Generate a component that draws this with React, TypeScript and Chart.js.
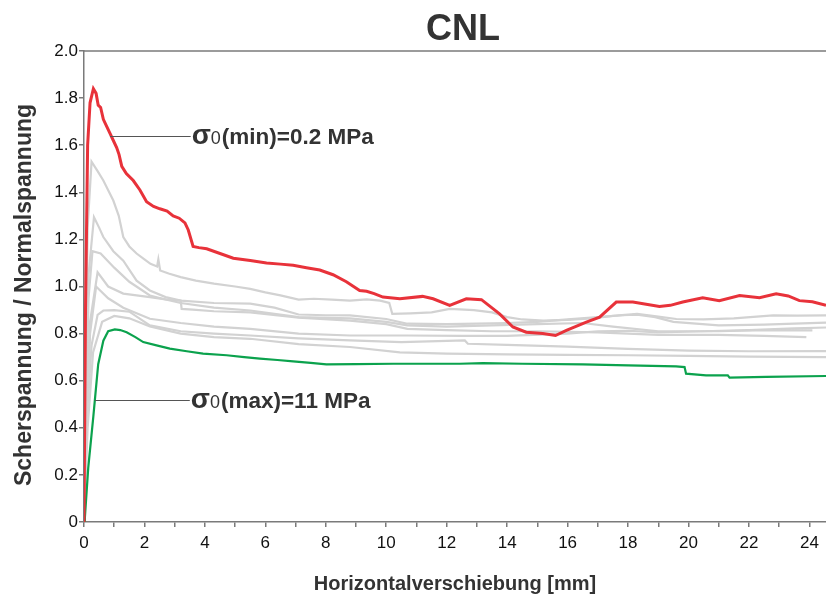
import React, { useEffect, useRef } from 'react';
import { Chart, registerables } from 'chart.js';

Chart.register(...registerables);

const TITLE = 'CNL';
const X_TITLE = 'Horizontalverschiebung [mm]';
const Y_TITLE = 'Scherspannung / Normalspannung';

const X_MIN = 0;
const X_MAX = 24.55;
const X_STEP = 1;
const X_LABEL_EVERY = 2;
const Y_MIN = 0;
const Y_MAX = 2.0;
const Y_STEP = 0.2;

// red: sigma0(min) = 0.2 MPa
const redX = [0, 0.05, 0.12, 0.2, 0.31, 0.4, 0.47, 0.55, 0.64, 0.75, 0.86, 0.97, 1.08, 1.16, 1.25, 1.4, 1.63, 1.85, 2.07, 2.3, 2.51, 2.75, 2.95, 3.15, 3.34, 3.45, 3.61, 3.8, 4.06, 4.5, 4.94, 5.5, 6.04, 6.5, 6.92, 7.36, 7.8, 8.24, 8.68, 9.12, 9.35, 9.6, 9.89, 10.45, 11.2, 11.55, 12.1, 12.65, 13.15, 13.75, 14.19, 14.63, 15.18, 15.6, 15.96, 16.62, 17.06, 17.61, 18.16, 18.6, 19.04, 19.4, 19.81, 20.47, 21.02, 21.69, 22.35, 22.9, 23.3, 23.67, 24.1, 24.55];
const redY = [0, 0.9, 1.6, 1.78, 1.84, 1.82, 1.77, 1.76, 1.71, 1.68, 1.65, 1.62, 1.59, 1.56, 1.51, 1.48, 1.45, 1.41, 1.36, 1.34, 1.33, 1.32, 1.3, 1.29, 1.27, 1.24, 1.17, 1.165, 1.16, 1.14, 1.12, 1.11, 1.1, 1.095, 1.09, 1.08, 1.07, 1.05, 1.02, 0.983, 0.98, 0.97, 0.955, 0.948, 0.958, 0.948, 0.92, 0.948, 0.944, 0.884, 0.828, 0.806, 0.8, 0.792, 0.814, 0.849, 0.87, 0.934, 0.934, 0.925, 0.915, 0.92, 0.934, 0.952, 0.94, 0.962, 0.952, 0.969, 0.96, 0.94, 0.935, 0.92];

// green: sigma0(max) = 11 MPa
const greenX = [0, 0.03, 0.14, 0.31, 0.47, 0.64, 0.8, 1.02, 1.2, 1.41, 1.7, 1.96, 2.4, 2.84, 3.4, 3.94, 4.72, 5.3, 5.82, 6.4, 6.92, 7.5, 8.02, 9, 10.23, 11.5, 12.43, 13.2, 14.5, 16.5, 18, 19.59, 19.87, 19.92, 20.58, 21.3, 21.36, 22.57, 24.55];
const greenY = [0, 0.02, 0.23, 0.45, 0.67, 0.77, 0.81, 0.818, 0.815, 0.806, 0.785, 0.764, 0.75, 0.736, 0.725, 0.715, 0.708, 0.7, 0.694, 0.688, 0.682, 0.676, 0.669, 0.67, 0.672, 0.672, 0.672, 0.675, 0.672, 0.669, 0.665, 0.661, 0.658, 0.63, 0.623, 0.623, 0.613, 0.616, 0.62];

// grey: intermediate normal stresses
const gray1X = [0, 0.05, 0.12, 0.25, 0.45, 0.64, 0.97, 1.15, 1.3, 1.5, 1.74, 2.0, 2.2, 2.42, 2.46, 2.52, 2.8, 3.2, 3.7, 4.3, 5.0, 5.5, 6.0, 6.5, 7.1, 7.6, 8.2, 8.8, 9.35, 9.8, 10.1, 10.2, 10.8, 11.5, 12.1, 12.9, 13.5, 14.0, 14.5, 15.2, 16.0, 16.8, 17.5, 18.3, 19.0, 19.6, 20.5, 21.5, 22.8, 23.6, 24.55];
const gray1Y = [0, 0.6, 1.25, 1.53, 1.49, 1.45, 1.365, 1.3, 1.21, 1.17, 1.14, 1.115, 1.096, 1.085, 1.115, 1.068, 1.055, 1.04, 1.025, 1.012, 1.0, 0.99, 0.975, 0.962, 0.944, 0.948, 0.944, 0.94, 0.945, 0.94, 0.93, 0.884, 0.886, 0.89, 0.905, 0.9, 0.89, 0.87, 0.86, 0.855, 0.858, 0.865, 0.875, 0.884, 0.872, 0.862, 0.86, 0.865, 0.877, 0.876, 0.877];
const gray2X = [0, 0.06, 0.15, 0.33, 0.5, 0.64, 0.97, 1.3, 1.74, 2.18, 2.7, 3.2, 4.3, 5.5, 6.3, 7.1, 8.0, 8.8, 10.0, 10.7, 12.0, 13.0, 14.0, 15.0, 16.0, 17.0, 17.8, 18.3, 18.9, 19.5, 21.0, 22.5, 23.5, 24.55];
const gray2Y = [0, 0.5, 1.05, 1.294, 1.25, 1.21, 1.15, 1.11, 1.025, 0.983, 0.955, 0.94, 0.93, 0.927, 0.91, 0.881, 0.878, 0.877, 0.862, 0.842, 0.84, 0.842, 0.845, 0.85, 0.86, 0.87, 0.878, 0.88, 0.87, 0.85, 0.835, 0.838, 0.842, 0.847];
const gray3X = [0, 0.06, 0.15, 0.28, 0.55, 1.0, 1.5, 2.18, 2.7, 3.2, 4.3, 5.5, 7.1, 8.8, 10.0, 10.7, 12.0, 13.5, 15.0, 16.5, 17.5, 19.0, 21.0, 22.5, 24.1];
const gray3Y = [0, 0.45, 0.95, 1.15, 1.14, 1.08, 1.02, 0.962, 0.945, 0.93, 0.91, 0.898, 0.87, 0.865, 0.85, 0.835, 0.83, 0.835, 0.84, 0.845, 0.83, 0.81, 0.81, 0.815, 0.814];
const gray4X = [0, 0.07, 0.2, 0.45, 0.8, 1.3, 2.18, 2.7, 3.2, 3.23, 3.6, 4.3, 5.5, 7.1, 8.8, 10.0, 10.7, 12.0, 13.5, 15.0, 17.0, 19.0, 21.0, 22.5, 23.9];
const gray4Y = [0, 0.4, 0.85, 1.06, 1.0, 0.97, 0.955, 0.945, 0.94, 0.905, 0.902, 0.895, 0.89, 0.868, 0.855, 0.84, 0.82, 0.815, 0.81, 0.81, 0.805, 0.795, 0.795, 0.79, 0.785];
const gray5X = [0, 0.07, 0.2, 0.4, 0.8, 1.3, 2.18, 3.2, 4.3, 5.5, 7.1, 8.8, 10.7, 12.5, 14.0, 16.0, 17.0, 18.0, 19.0, 20.5, 22.0, 23.5, 24.55];
const gray5Y = [0, 0.4, 0.8, 1.0, 0.95, 0.91, 0.863, 0.845, 0.83, 0.82, 0.8, 0.792, 0.792, 0.79, 0.79, 0.8, 0.81, 0.812, 0.805, 0.81, 0.815, 0.822, 0.826];
const gray6X = [0, 0.1, 0.25, 0.45, 0.64, 1.0, 1.5, 2.18, 3.2, 4.3, 5.5, 7.1, 8.8, 10.5, 12.6, 12.7, 14.0, 16.0, 18.0, 20.0, 22.0, 24.55];
const gray6Y = [0, 0.45, 0.75, 0.88, 0.898, 0.9, 0.893, 0.835, 0.81, 0.8, 0.792, 0.78, 0.771, 0.764, 0.771, 0.757, 0.752, 0.745, 0.735, 0.728, 0.725, 0.726];
const gray7X = [0, 0.12, 0.3, 0.6, 1.0, 1.5, 2.18, 3.2, 4.3, 5.5, 7.1, 8.8, 10.45, 12.0, 14.0, 16.0, 18.0, 20.0, 22.0, 24.55];
const gray7Y = [0, 0.4, 0.72, 0.85, 0.875, 0.865, 0.83, 0.8, 0.785, 0.778, 0.755, 0.743, 0.72, 0.715, 0.712, 0.71, 0.708, 0.705, 0.702, 0.7];

const grayX = [gray1X, gray2X, gray3X, gray4X, gray5X, gray6X, gray7X];
const grayY = [gray1Y, gray2Y, gray3Y, gray4Y, gray5Y, gray6Y, gray7Y];

// annotation labels: anchor x, y, line end x
const annoMin = { sub: '0', rest: '(min)=0.2 MPa', x0: 0.86, y: 1.64, x1: 3.53 };
const annoMax = { sub: '0', rest: '(max)=11 MPa', x0: 0.36, y: 0.52, x1: 3.5 };

const FONT = '"Liberation Sans", Arial, Helvetica, sans-serif';
const TEXT = '#333333';
const AXIS = '#7a7a7a';

const toPts = (xs: number[], ys: number[]) => xs.map((x, i) => ({ x, y: ys[i] }));

const overlay = {
  id: 'overlay',
  afterDraw(chart: any) {
    const { ctx, chartArea, scales } = chart;
    const xs = scales.x;
    const ys = scales.y;
    ctx.save();
    ctx.strokeStyle = AXIS;
    ctx.lineWidth = 1.5;
    ctx.beginPath();
    ctx.moveTo(chartArea.left, chartArea.top);
    ctx.lineTo(chartArea.right, chartArea.top);
    ctx.stroke();

    ctx.fillStyle = TEXT;
    ctx.textAlign = 'center';
    ctx.textBaseline = 'alphabetic';
    ctx.font = `bold 36px ${FONT}`;
    ctx.fillText(TITLE, 463, 40);

    ctx.font = `bold 20px ${FONT}`;
    ctx.fillText(X_TITLE, 455, 590);

    ctx.save();
    ctx.translate(31, 295);
    ctx.rotate(-Math.PI / 2);
    ctx.font = `bold 23px ${FONT}`;
    ctx.fillText(Y_TITLE, 0, 0);
    ctx.restore();

    for (const a of [annoMin, annoMax]) {
      const px0 = xs.getPixelForValue(a.x0);
      const px1 = xs.getPixelForValue(a.x1);
      const py = Math.round(ys.getPixelForValue(a.y)) + 0.5;
      ctx.strokeStyle = '#555555';
      ctx.lineWidth = 1;
      ctx.beginPath();
      ctx.moveTo(px0, py);
      ctx.lineTo(px1, py);
      ctx.stroke();
      ctx.textAlign = 'left';
      ctx.textBaseline = 'alphabetic';
      let tx = px1 + 1;
      const base = py + 7;
      ctx.font = `bold 28px ${FONT}`;
      ctx.fillText('σ', tx, base);
      tx += ctx.measureText('σ').width;
      ctx.font = `18px ${FONT}`;
      ctx.fillText(a.sub, tx, base);
      tx += ctx.measureText(a.sub).width + 1;
      ctx.font = `bold 22.5px ${FONT}`;
      ctx.fillText(a.rest, tx, base);
    }
    ctx.restore();
  },
};

export default function App() {
  const ref = useRef<HTMLCanvasElement | null>(null);
  useEffect(() => {
    if (!ref.current) return;
    const grayDatasets = grayX.map((xs, i) => ({
      label: `grau ${i + 1}`,
      data: toPts(xs, grayY[i]),
      borderColor: '#d2d2d2',
      borderWidth: 2.2,
      pointRadius: 0,
      tension: 0,
      fill: false,
    }));
    const chart = new Chart(ref.current, {
      type: 'line',
      data: {
        datasets: [
          { label: 'σ0(min)=0.2 MPa', data: toPts(redX, redY), borderColor: '#e8323a', borderWidth: 3, pointRadius: 0, tension: 0, fill: false },
          { label: 'σ0(max)=11 MPa', data: toPts(greenX, greenY), borderColor: '#0ba24d', borderWidth: 2.2, pointRadius: 0, tension: 0, fill: false },
          ...grayDatasets,
        ],
      },
      options: {
        animation: false,
        responsive: false,
        layout: { padding: { top: 51, left: 0, right: 0, bottom: 0 } },
        plugins: { legend: { display: false }, tooltip: { enabled: false }, title: { display: false } },
        scales: {
          x: {
            type: 'linear',
            min: X_MIN,
            max: X_MAX,
            afterFit: (s: any) => { s.height = 76; },
            border: { display: true, color: AXIS, width: 1.5 },
            grid: { display: true, drawOnChartArea: false, drawTicks: true, tickLength: 5, color: AXIS, lineWidth: 1.5 },
            ticks: {
              stepSize: X_STEP,
              includeBounds: false,
              autoSkip: false,
              maxRotation: 0,
              padding: 6,
              color: '#111111',
              font: { family: FONT, size: 17 },
              callback: (v: any) => (Math.round(v) % X_LABEL_EVERY === 0 ? String(Math.round(v)) : ''),
            },
          },
          y: {
            type: 'linear',
            min: Y_MIN,
            max: Y_MAX,
            afterFit: (s: any) => { s.width = 84; },
            border: { display: true, color: AXIS, width: 1.5 },
            grid: { display: true, drawOnChartArea: false, drawTicks: true, tickLength: 5, color: AXIS, lineWidth: 1.5 },
            ticks: {
              stepSize: Y_STEP,
              autoSkip: false,
              padding: 1,
              color: '#111111',
              font: { family: FONT, size: 17 },
              callback: (v: any) => (Math.abs(v) < 1e-9 ? '0' : Number(v).toFixed(1)),
            },
          },
        },
      },
      plugins: [overlay],
    });
    return () => chart.destroy();
  }, []);
  return (
    <div style={{ position: 'absolute', left: 0, top: 0, width: 826, height: 598, background: '#fff' }}>
      <canvas ref={ref} width={826} height={598} style={{ display: 'block' }} />
    </div>
  );
}
